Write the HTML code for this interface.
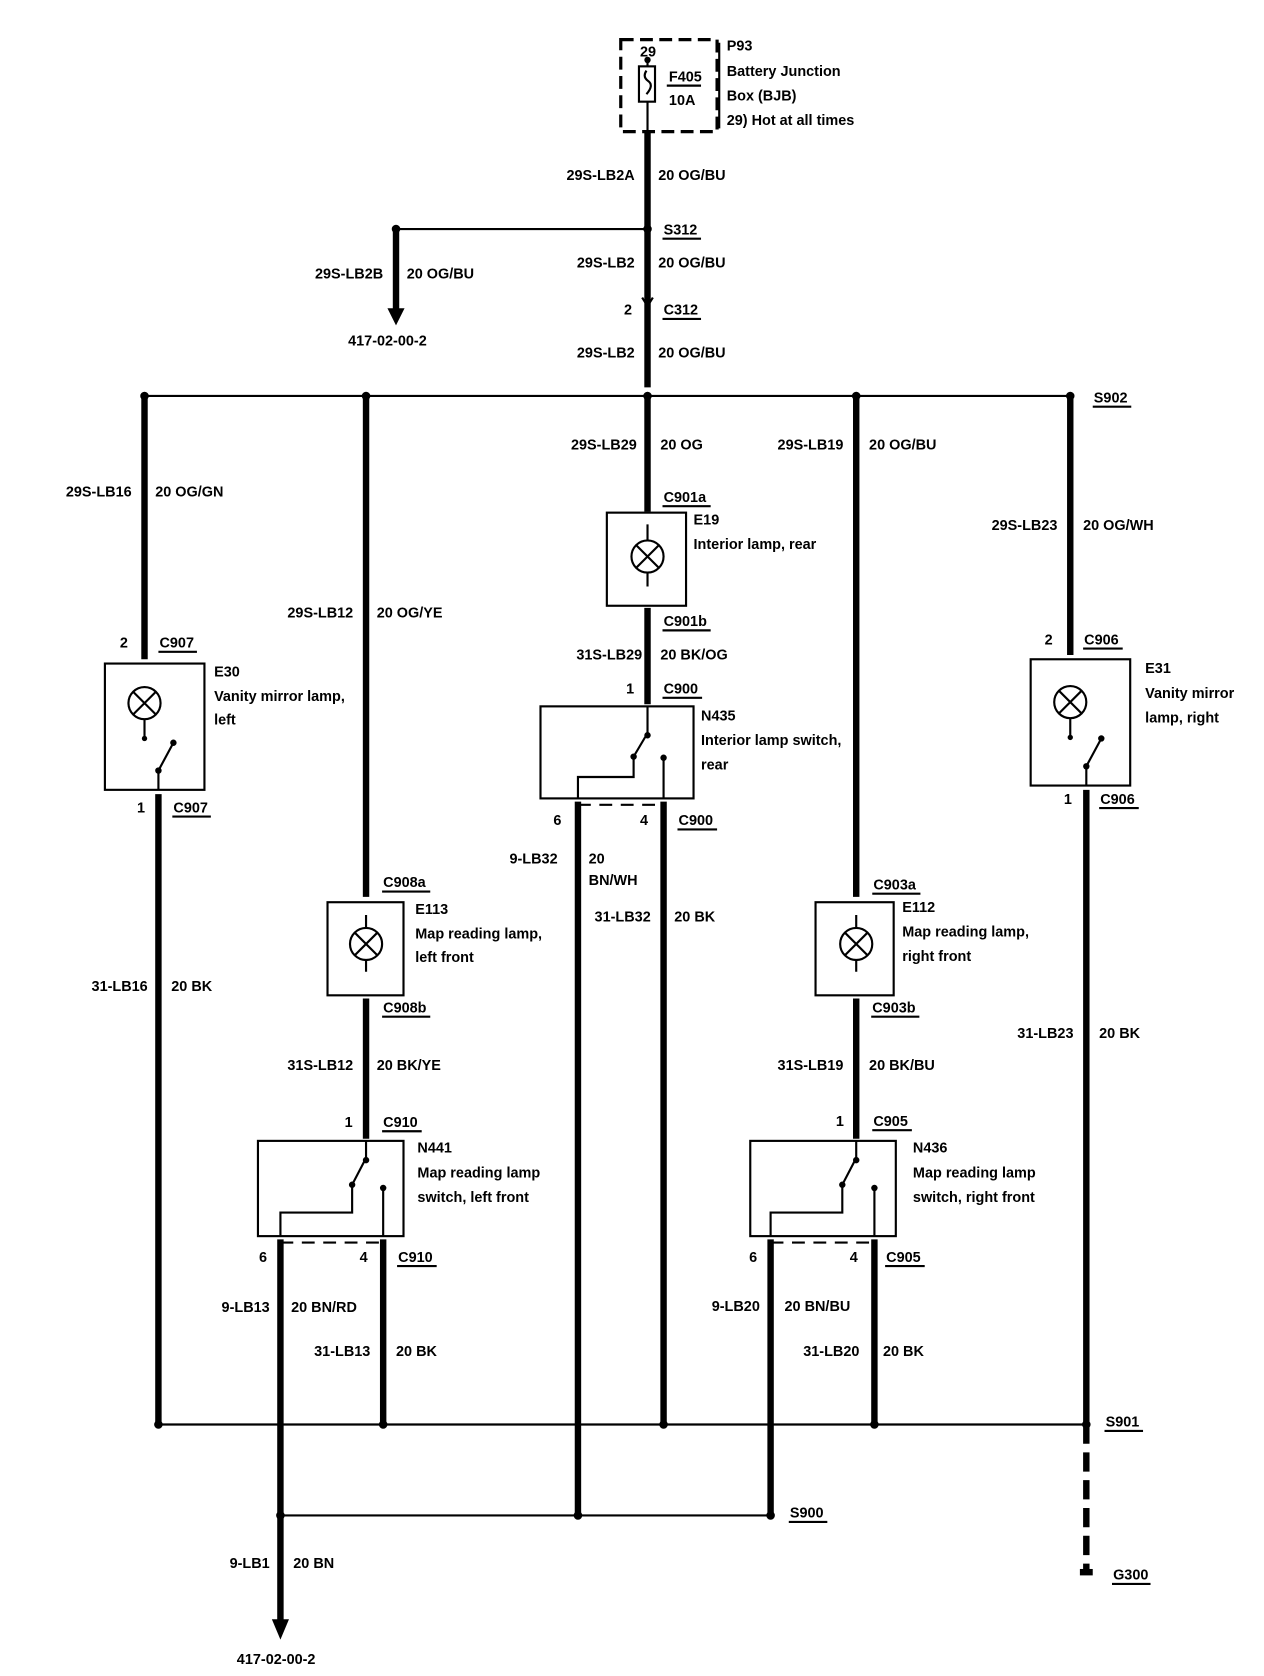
<!DOCTYPE html>
<html><head><meta charset="utf-8"><style>
html,body{margin:0;padding:0;background:#fff}
svg{display:block}
text{font-family:"Liberation Sans",sans-serif;font-size:13.5px;font-weight:bold;fill:#000}
.r{text-anchor:end}
.c{text-anchor:middle}
.w{stroke:#000;stroke-width:6;fill:none}
.t{stroke:#000;stroke-width:2;fill:none}
.b{stroke:#000;stroke-width:2;fill:#fff}
</style></head><body>
<svg width="1264" height="1676" viewBox="0 0 1181 1566" xmlns="http://www.w3.org/2000/svg">
<!-- P93 box -->
<rect x="580" y="37" width="90" height="86" fill="none" stroke="#000" stroke-width="3" stroke-dasharray="12,6"/>
<rect x="597" y="62" width="15" height="33" class="b"/>
<path d="M605 55 V62 M605 95 V123 M604 66 q-4 6 2 10 q5 4 -2 12" class="t"/>
<circle cx="605" cy="56" r="3"/>
<text x="598" y="53">29</text>
<text x="625" y="76">F405</text><path d="M623 80 H655" class="t"/>
<text x="625" y="98">10A</text>
<path d="M672 40 V120" class="t" stroke-width="2.5"/>
<text x="679" y="47">P93</text>
<text x="679" y="71">Battery Junction</text>
<text x="679" y="94">Box (BJB)</text>
<text x="679" y="117">29)   Hot at all times</text>

<!-- main trunk -->
<path d="M605 123 V362" class="w"/>
<text x="593" y="168" class="r">29S-LB2A</text><text x="615" y="168">20 OG/BU</text>
<path d="M370 214 H605" class="t"/>
<circle cx="605" cy="214" r="4"/><circle cx="370" cy="214" r="4"/>
<text x="620" y="219">S312</text><path d="M619 223 H655" class="t"/>
<path d="M370 214 V290" class="w"/><path d="M362 288 L370 304 L378 288 Z"/>
<text x="358" y="260" class="r">29S-LB2B</text><text x="380" y="260">20 OG/BU</text>
<text x="362" y="323" class="c">417-02-00-2</text>
<text x="593" y="250" class="r">29S-LB2</text><text x="615" y="250">20 OG/BU</text>
<path d="M600 278 L605 286 L610 278" class="t"/>
<text x="583" y="294">2</text><text x="620" y="294">C312</text><path d="M619 298 H655" class="t"/>
<text x="593" y="334" class="r">29S-LB2</text><text x="615" y="334">20 OG/BU</text>

<!-- S902 bus -->
<path d="M135 370 H1000" class="t"/>
<circle cx="135" cy="370" r="4"/><circle cx="342" cy="370" r="4"/><circle cx="605" cy="370" r="4"/><circle cx="800" cy="370" r="4"/><circle cx="1000" cy="370" r="4"/>
<text x="1022" y="376">S902</text><path d="M1021 380 H1057" class="t"/>

<!-- Column 1 E30 -->
<path d="M135 370 V616" class="w"/>
<text x="123" y="464" class="r">29S-LB16</text><text x="145" y="464">20 OG/GN</text>
<text x="112" y="605">2</text><text x="149" y="605">C907</text><path d="M148 609 H184" class="t"/>
<rect x="98" y="620" width="93" height="118" class="b"/>
<circle cx="135" cy="657" r="15" class="b"/><path d="M124 646 L146 668 M146 646 L124 668" class="t"/>
<path d="M135 672 V690" class="t"/><circle cx="135" cy="690" r="2.5"/>
<path d="M148 738 V720 L162 694" class="t"/><circle cx="148" cy="720" r="3"/><circle cx="162" cy="694" r="3"/>
<text x="200" y="632">E30</text><text x="200" y="655">Vanity mirror lamp,</text><text x="200" y="677">left</text>
<text x="128" y="759">1</text><text x="162" y="759">C907</text><path d="M161 763 H197" class="t"/>
<path d="M148 742 V1331" class="w"/>
<text x="138" y="926" class="r">31-LB16</text><text x="160" y="926">20 BK</text>

<!-- Column 2 E113 / N441 -->
<path d="M342 370 V838" class="w"/>
<text x="330" y="577" class="r">29S-LB12</text><text x="352" y="577">20 OG/YE</text>
<text x="358" y="829">C908a</text><path d="M357 833 H402" class="t"/>
<rect x="306" y="843" width="71" height="87" class="b"/>
<circle cx="342" cy="882" r="15" class="b"/><path d="M331 871 L353 893 M353 871 L331 893" class="t"/>
<path d="M342 855 V867 M342 897 V908" class="t"/>
<text x="388" y="854">E113</text><text x="388" y="877">Map reading lamp,</text><text x="388" y="899">left front</text>
<text x="358" y="946">C908b</text><path d="M357 950 H402" class="t"/>
<path d="M342 933 V1064" class="w"/>
<text x="330" y="1000" class="r">31S-LB12</text><text x="352" y="1000">20 BK/YE</text>
<text x="322" y="1053">1</text><text x="358" y="1053">C910</text><path d="M357 1057 H394" class="t"/>
<rect x="241" y="1066" width="136" height="89" class="b"/>
<path d="M342 1066 V1082 L329 1107 V1133 H262 V1155" class="t"/><circle cx="342" cy="1084" r="3"/><circle cx="329" cy="1107" r="3"/>
<path d="M358 1110 V1155" class="t"/><circle cx="358" cy="1110" r="3"/>
<text x="390" y="1077">N441</text><text x="390" y="1100">Map reading lamp</text><text x="390" y="1123">switch, left front</text>
<path d="M262 1161 H358" class="t" stroke-dasharray="12,8"/>
<text x="242" y="1179">6</text><text x="336" y="1179">4</text><text x="372" y="1179">C910</text><path d="M371 1183 H408" class="t"/>
<path d="M262 1158 V1515" class="w"/><path d="M254 1513 L262 1532 L270 1513 Z"/>
<path d="M358 1158 V1331" class="w"/>
<text x="252" y="1226" class="r">9-LB13</text><text x="272" y="1226">20 BN/RD</text>
<text x="346" y="1267" class="r">31-LB13</text><text x="370" y="1267">20 BK</text>

<!-- Column 3 E19 / N435 -->
<path d="M605 370 V478" class="w"/>
<text x="595" y="420" class="r">29S-LB29</text><text x="617" y="420">20 OG</text>
<text x="620" y="469">C901a</text><path d="M619 473 H664" class="t"/>
<rect x="567" y="479" width="74" height="87" class="b"/>
<circle cx="605" cy="520" r="15" class="b"/><path d="M594 509 L616 531 M616 509 L594 531" class="t"/>
<path d="M605 490 V505 M605 535 V548" class="t"/>
<text x="648" y="490">E19</text><text x="648" y="513">Interior lamp, rear</text>
<text x="620" y="585">C901b</text><path d="M619 589 H664" class="t"/>
<path d="M605 568 V658" class="w"/>
<text x="600" y="616" class="r">31S-LB29</text><text x="617" y="616">20 BK/OG</text>
<text x="585" y="648">1</text><text x="620" y="648">C900</text><path d="M619 652 H656" class="t"/>
<rect x="505" y="660" width="143" height="86" class="b"/>
<path d="M605 660 V685 L592 707 V726 H540 V746" class="t"/><circle cx="605" cy="687" r="3"/><circle cx="592" cy="707" r="3"/>
<path d="M620 708 V746" class="t"/><circle cx="620" cy="708" r="3"/>
<text x="655" y="673">N435</text><text x="655" y="696">Interior lamp switch,</text><text x="655" y="719">rear</text>
<path d="M540 752 H620" class="t" stroke-dasharray="12,8"/>
<text x="517" y="771">6</text><text x="598" y="771">4</text><text x="634" y="771">C900</text><path d="M633 775 H670" class="t"/>
<path d="M540 749 V1416" class="w"/><path d="M620 749 V1331" class="w"/>
<text x="521" y="807" class="r">9-LB32</text><text x="550" y="807">20</text><text x="550" y="827">BN/WH</text>
<text x="608" y="861" class="r">31-LB32</text><text x="630" y="861">20 BK</text>

<!-- Column 4 E112 / N436 -->
<path d="M800 370 V838" class="w"/>
<text x="788" y="420" class="r">29S-LB19</text><text x="812" y="420">20 OG/BU</text>
<text x="816" y="831">C903a</text><path d="M815 835 H860" class="t"/>
<rect x="762" y="843" width="73" height="87" class="b"/>
<circle cx="800" cy="882" r="15" class="b"/><path d="M789 871 L811 893 M811 871 L789 893" class="t"/>
<path d="M800 855 V867 M800 897 V908" class="t"/>
<text x="843" y="852">E112</text><text x="843" y="875">Map reading lamp,</text><text x="843" y="898">right front</text>
<text x="815" y="946">C903b</text><path d="M814 950 H859" class="t"/>
<path d="M800 933 V1064" class="w"/>
<text x="788" y="1000" class="r">31S-LB19</text><text x="812" y="1000">20 BK/BU</text>
<text x="781" y="1052">1</text><text x="816" y="1052">C905</text><path d="M815 1056 H852" class="t"/>
<rect x="701" y="1066" width="136" height="89" class="b"/>
<path d="M800 1066 V1082 L787 1107 V1133 H720 V1155" class="t"/><circle cx="800" cy="1084" r="3"/><circle cx="787" cy="1107" r="3"/>
<path d="M817 1110 V1155" class="t"/><circle cx="817" cy="1110" r="3"/>
<text x="853" y="1077">N436</text><text x="853" y="1100">Map reading lamp</text><text x="853" y="1123">switch, right front</text>
<path d="M720 1161 H817" class="t" stroke-dasharray="12,8"/>
<text x="700" y="1179">6</text><text x="794" y="1179">4</text><text x="828" y="1179">C905</text><path d="M827 1183 H864" class="t"/>
<path d="M720 1158 V1416" class="w"/><path d="M817 1158 V1331" class="w"/>
<text x="710" y="1225" class="r">9-LB20</text><text x="733" y="1225">20 BN/BU</text>
<text x="803" y="1267" class="r">31-LB20</text><text x="825" y="1267">20 BK</text>

<!-- Column 5 E31 -->
<path d="M1000 370 V612" class="w"/>
<text x="988" y="495" class="r">29S-LB23</text><text x="1012" y="495">20 OG/WH</text>
<text x="976" y="602">2</text><text x="1013" y="602">C906</text><path d="M1012 606 H1049" class="t"/>
<rect x="963" y="616" width="93" height="118" class="b"/>
<circle cx="1000" cy="656" r="15" class="b"/><path d="M989 645 L1011 667 M1011 645 L989 667" class="t"/>
<path d="M1000 671 V689" class="t"/><circle cx="1000" cy="689" r="2.5"/>
<path d="M1015 734 V716 L1029 690" class="t"/><circle cx="1015" cy="716" r="3"/><circle cx="1029" cy="690" r="3"/>
<text x="1070" y="629">E31</text><text x="1070" y="652">Vanity mirror</text><text x="1070" y="675">lamp, right</text>
<text x="994" y="751">1</text><text x="1028" y="751">C906</text><path d="M1027 755 H1064" class="t"/>
<path d="M1015 738 V1331" class="w"/>
<path d="M1015 1331 V1466" class="w" stroke-dasharray="18,8"/>
<path d="M1009 1472 H1021 V1466 H1009 Z"/>
<text x="1003" y="970" class="r">31-LB23</text><text x="1027" y="970">20 BK</text>
<text x="1033" y="1333">S901</text><path d="M1032 1337 H1068" class="t"/>
<text x="1040" y="1476">G300</text><path d="M1039 1480 H1075" class="t"/>

<!-- S901 bus -->
<path d="M148 1331 H1015" class="t" stroke-width="2.5"/>
<circle cx="148" cy="1331" r="4"/><circle cx="358" cy="1331" r="4"/><circle cx="620" cy="1331" r="4"/><circle cx="817" cy="1331" r="4"/><circle cx="1015" cy="1331" r="4"/>
<!-- S900 bus -->
<path d="M262 1416 H720" class="t" stroke-width="2.5"/>
<circle cx="262" cy="1416" r="4"/><circle cx="540" cy="1416" r="4"/><circle cx="720" cy="1416" r="4"/>
<text x="738" y="1418">S900</text><path d="M737 1422 H773" class="t"/>
<text x="252" y="1465" class="r">9-LB1</text><text x="274" y="1465">20 BN</text>
<text x="258" y="1555" class="c">417-02-00-2</text>
</svg>
</body></html>
